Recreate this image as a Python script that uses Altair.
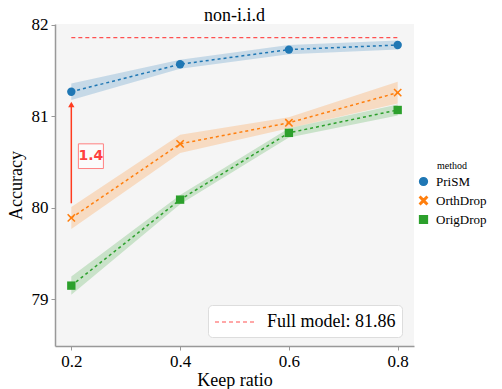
import altair as alt
import pandas as pd

keep = [0.2, 0.4, 0.6, 0.8]
methods = ["PriSM", "OrthDrop", "OrigDrop"]
prism = [81.27, 81.57, 81.73, 81.78]
prism_err = [0.09, 0.05, 0.05, 0.05]
orth = [79.89, 80.70, 80.93, 81.26]
orth_err = [0.12, 0.10, 0.06, 0.12]
orig = [79.15, 80.09, 80.82, 81.07]
orig_err = [0.10, 0.05, 0.05, 0.06]
full_model = 81.86
full_label = "Full model: 81.86"
gap_label = "1.4"

rows = []
for m, vals, errs in zip(methods, [prism, orth, orig], [prism_err, orth_err, orig_err]):
    for k, v, e in zip(keep, vals, errs):
        rows.append({"keep": k, "acc": v, "lo": v - e, "hi": v + e, "method": m})
df = pd.DataFrame(rows)

colors = ["#1f77b4", "#ff7f0e", "#2ca02c"]
xshape = "M-0.75,-1L0,-0.28L0.75,-1L1,-0.75L0.28,0L1,0.75L0.75,1L0,0.28L-0.75,1L-1,0.75L-0.28,0L-1,-0.75Z"
shapes = ["circle", xshape, "square"]
serif = "Liberation Serif"

xs = alt.Scale(domain=[0.17, 0.83], nice=False)
ys = alt.Scale(domain=[78.49, 82.01], nice=False, zero=False)
cscale = alt.Scale(domain=methods, range=colors)
col = alt.Color("method:N", scale=cscale,
                legend=alt.Legend(title="method", orient="none", legendX=362, legendY=137,
                                  titleFontSize=10, titleFontWeight="normal", labelFontSize=13,
                                  titleFont=serif, labelFont=serif, symbolSize=60,
                                  titleAnchor="middle",
                                  symbolOpacity=1, rowPadding=4, titlePadding=4, labelOffset=6))
shp = alt.Shape("method:N", scale=alt.Scale(domain=methods, range=shapes))

base = alt.Chart(df)
x = alt.X("keep:Q", scale=xs, title="Keep ratio",
          axis=alt.Axis(values=keep, format=".1f", grid=False, titlePadding=2))
y = alt.Y("acc:Q", scale=ys, title="Accuracy",
          axis=alt.Axis(values=[79, 80, 81, 82], format="d", grid=False, titlePadding=6))

band = base.mark_area(opacity=0.22).encode(
    x=x, y=alt.Y("lo:Q", scale=ys), y2="hi:Q", color=col)
line = base.mark_line(strokeDash=[3, 3], strokeWidth=1.5).encode(x=x, y=y, color=col)
pts = base.mark_point(filled=True, opacity=1, size=70).encode(x=x, y=y, color=col, shape=shp)

full_df = pd.DataFrame({"x": [keep[0]], "x2": [keep[-1]], "y": [full_model], "lab": [full_label]})
full = alt.Chart(full_df).mark_rule(color="#ff5050", strokeDash=[4, 3], strokeWidth=1.2).encode(
    x=alt.X("x:Q", scale=xs), x2="x2:Q", y=alt.Y("y:Q", scale=ys),
    strokeDash=alt.StrokeDash("lab:N", scale=alt.Scale(range=[[4, 3]]),
                              legend=alt.Legend(title=None, orient="none", legendX=153, legendY=281,
                                                labelFontSize=18,
                                                labelFont=serif, symbolType="M-1,0L3,0",
                                                symbolStrokeColor="#ff5050", symbolSize=400,
                                                symbolStrokeWidth=1.2, labelOffset=31,
                                                fillColor="white", strokeColor="#dddddd",
                                                cornerRadius=4, padding=6)))

arr_df = pd.DataFrame({"x": [keep[0]], "y": [orth[0] + 0.16], "y2": [prism[0] - 0.14]})
arrow = alt.Chart(arr_df).mark_rule(color="#ff3b1f", strokeWidth=1.5).encode(
    x=alt.X("x:Q", scale=xs), y=alt.Y("y:Q", scale=ys), y2="y2:Q")
head = alt.Chart(arr_df).mark_point(shape="triangle-up", filled=True, color="#ff3b1f", size=40, opacity=1).encode(
    x=alt.X("x:Q", scale=xs), y=alt.Y("y2:Q", scale=ys))

box_df = pd.DataFrame({"x": [0.213], "x2": [0.259], "y": [80.43], "y2": [80.70], "tx": [0.236], "ty": [80.565], "t": [gap_label]})
box = alt.Chart(box_df).mark_rect(fill="white", fillOpacity=0.6, stroke="#ff8080", strokeWidth=1).encode(
    x=alt.X("x:Q", scale=xs), x2="x2:Q", y=alt.Y("y:Q", scale=ys), y2="y2:Q")
txt = alt.Chart(box_df).mark_text(color="#ff4040", fontWeight="bold", font="DejaVu Sans", fontSize=14).encode(
    x=alt.X("tx:Q", scale=xs), y=alt.Y("ty:Q", scale=ys), text="t:N")

chart = alt.layer(band, line, pts, full, arrow, head, box, txt).properties(
    width=359, height=322,
    title=alt.Title("non-i.i.d", font=serif, fontSize=18, fontWeight="normal", offset=0,
                    frame="group", dy=9),
    autosize=alt.AutoSizeParams(type="none"),
    padding={"left": 47, "top": 16, "right": 80, "bottom": 43},
).configure_view(fill="#f5f5f5", stroke=None).configure_axis(
    labelFont=serif, titleFont=serif, labelFontSize=17, titleFontSize=18,
    titleFontWeight="normal", domainColor="#999999", domainWidth=1.5,
    tickColor="#999999", tickSize=4, labelColor="black", titleColor="black",
    labelPadding=3,
)

chart.save("out.html", embed_options={"renderer": "svg", "actions": False})
